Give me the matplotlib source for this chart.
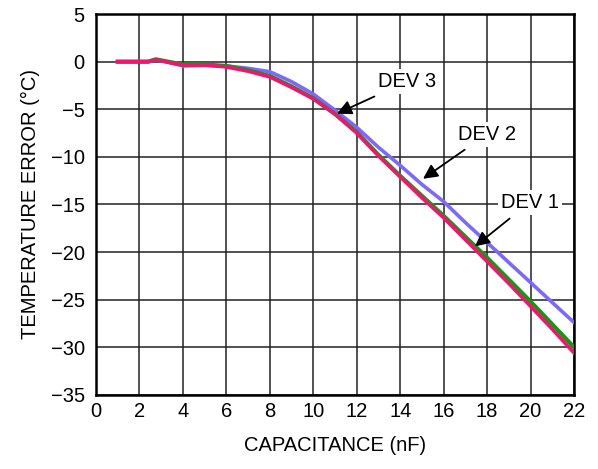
import numpy as np
import matplotlib.pyplot as plt

plt.rcParams['font.family'] = ['Liberation Sans', 'DejaVu Sans']

# capacitance (nF)
cap = [1, 2, 2.4, 2.75, 3.2, 4, 5, 6, 7, 8, 9, 10, 11, 12, 13, 14, 15, 16, 17, 18, 19, 20, 21, 22]
# temperature error (degC) per device
dev3 = [0, 0, 0, 0.2, 0.0, -0.45, -0.4, -0.45, -0.7, -1.05, -2.1, -3.4, -5.1, -6.9, -9.0, -10.9, -12.9, -14.7, -16.9, -19.0, -21.1, -23.2, -25.3, -27.4]
dev2 = [0, 0, 0, 0.25, 0.05, -0.3, -0.3, -0.45, -0.9, -1.5, -2.6, -3.85, -5.5, -7.4, -9.8, -12.0, -14.1, -16.2, -18.4, -20.6, -22.9, -25.2, -27.6, -30.0]
dev1 = [0, 0, 0, 0.2, 0.0, -0.35, -0.35, -0.55, -1.0, -1.6, -2.7, -3.9, -5.5, -7.5, -9.9, -12.1, -14.3, -16.4, -18.7, -21.0, -23.3, -25.7, -28.1, -30.6]

fig = plt.figure(figsize=(5.98, 4.69), dpi=100)
ax = fig.add_axes([0.1605, 0.158, 0.7995, 0.812])

ax.plot(cap, dev3, color='#7b68ff', lw=2.6, zorder=3)
ax.plot(cap, dev2, color='#119a11', lw=3.0, zorder=4)
ax.plot(cap, dev1, color='#f0166e', lw=2.6, zorder=5)

ax.set_xlim(0, 22)
ax.set_ylim(-35, 5)
ax.set_xticks(np.arange(0, 23, 2))
ax.set_yticks(np.arange(-35, 6, 5))
ax.set_yticklabels(['\u221235', '\u221230', '\u221225', '\u221220', '\u221215', '\u221210', '\u22125', '0', '5'])
ax.grid(True, color='#222222', lw=1.1)
ax.tick_params(length=0, labelsize=14.5, pad=5)
ax.tick_params(axis='y', pad=8)
for s in ax.spines.values():
    s.set_linewidth(1.8)

ax.set_xlabel('CAPACITANCE (nF)', fontsize=14.5, labelpad=11)
ax.set_ylabel('TEMPERATURE ERROR (\u00b0C)', fontsize=14.5, labelpad=8)

box = dict(boxstyle='square,pad=0.15', fc='white', ec='none')
arr = dict(arrowstyle='-|>,head_length=0.6,head_width=0.3', color='black', lw=1.3, shrinkA=4, shrinkB=0)
ax.annotate('DEV 3', xy=(11.09, -5.46), xytext=(14.3, -2.1), ha='center', va='center',
            fontsize=14.5, bbox=box, arrowprops=arr, zorder=6)
ax.annotate('DEV 2', xy=(15.05, -12.3), xytext=(18.0, -7.6), ha='center', va='center',
            fontsize=14.5, bbox=box, arrowprops=arr, zorder=6)
ax.annotate('DEV 1', xy=(17.44, -19.4), xytext=(19.95, -14.8), ha='center', va='center',
            fontsize=14.5, bbox=box, arrowprops=arr, zorder=6)

fig.savefig('out.png', dpi=100)
